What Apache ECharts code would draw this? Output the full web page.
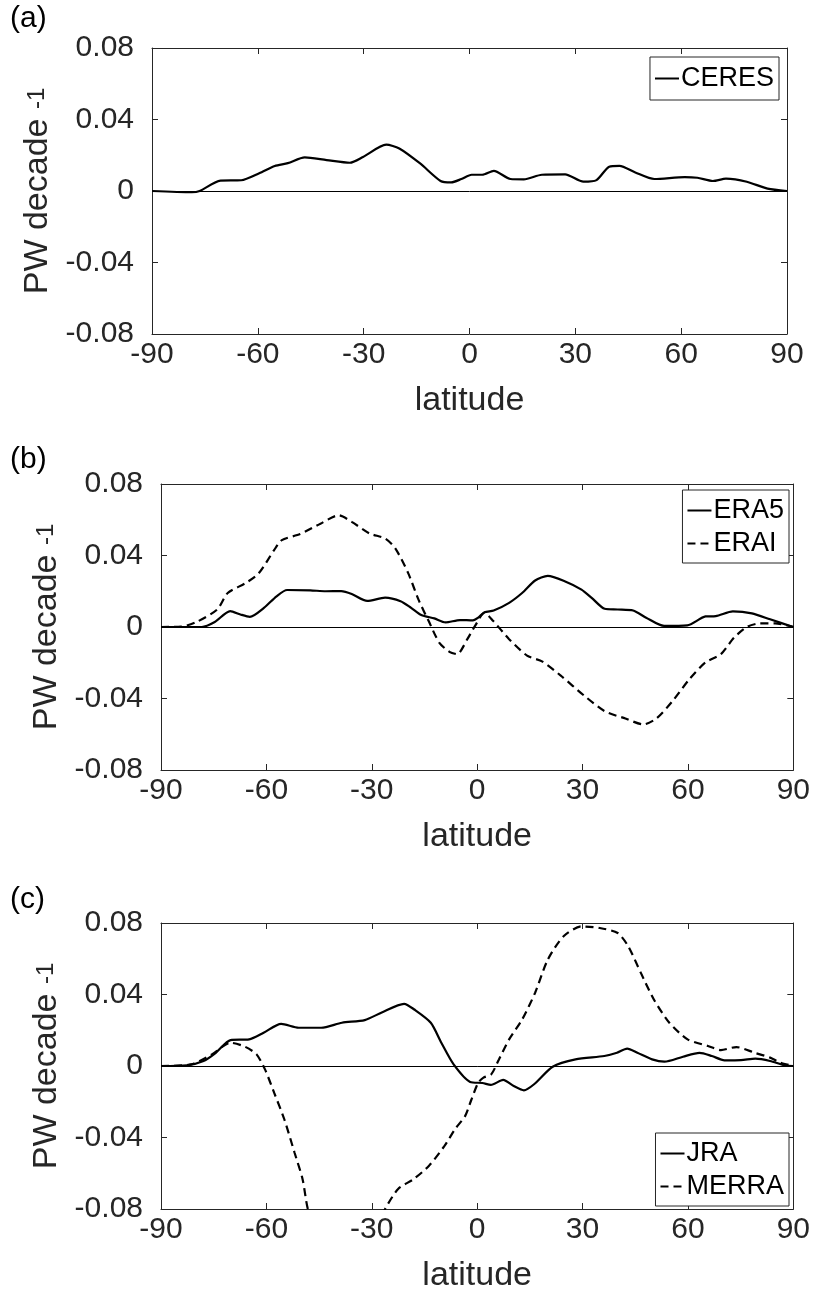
<!DOCTYPE html>
<html>
<head>
<meta charset="utf-8">
<script src="https://cdn.jsdelivr.net/npm/echarts@6/dist/echarts.min.js"></script>
<style>
html,body{margin:0;padding:0;background:#fff;}
#chart{width:813px;height:1297px;}
</style>
</head>
<body>
<div id="chart"></div>
<script>
// ---- data (latitude, PW decade^-1) ----
const xTicks = [-90, -60, -30, 0, 30, 60, 90];
const yTicks = [-0.08, -0.04, 0, 0.04, 0.08];

const ceresLat = [-90,-78.7,-76.5,-70.6,-64.7,-59.6,-55.2,-51.5,-46.7,-40.5,-33.9,-30.2,-23.6,-19.9,-14.0,-8.2,-5.2,-2.3,0.6,3.6,6.9,11.6,15.4,20.5,27.1,32.3,36.0,39.6,42.5,47.0,52.4,61.0,64.6,69.0,72.7,78.6,84.5,90];
const ceresVal = [0,-0.0007,0,0.0058,0.006,0.0099,0.014,0.0156,0.0188,0.0173,0.0158,0.019,0.0259,0.0238,0.0154,0.0056,0.0048,0.0067,0.0091,0.0091,0.0113,0.0067,0.0065,0.0091,0.0093,0.0052,0.0061,0.0136,0.0141,0.0104,0.0067,0.0078,0.0074,0.0056,0.0069,0.0052,0.0013,0];

const era5Lat = [-90,-78.4,-74.7,-70.3,-67.4,-64.7,-60.7,-57.1,-54.1,-47.5,-43.1,-38.7,-35.7,-31.3,-26.2,-21.8,-18.8,-15.9,-12.2,-9.0,-4.9,-1.2,0.3,2.1,4.7,9.1,12.8,16.5,20.1,24.6,29.7,32.6,36.3,40.0,44.4,48.1,53.2,59.8,65.0,67.9,72.8,78.2,83.4,90];
const era5Val = [0,0,0.0028,0.0089,0.007,0.0057,0.0107,0.0172,0.0207,0.0205,0.02,0.0201,0.0185,0.0146,0.0164,0.0144,0.0107,0.0067,0.0048,0.0026,0.0039,0.0037,0.0052,0.0083,0.0092,0.0135,0.019,0.026,0.0286,0.0259,0.0209,0.0163,0.0102,0.0098,0.0092,0.0052,0.0006,0.0009,0.0059,0.0061,0.0087,0.0076,0.0043,0];

const eraiLat = [-90,-84.3,-79.9,-74,-71,-65.9,-62.2,-57.8,-55.6,-50.4,-44.6,-39.4,-35.7,-30.6,-26.2,-23.3,-19.6,-16.7,-13.8,-10.8,-7.9,-5.7,-2.8,-0.6,2.1,4.6,9.1,14.2,18.6,23.8,30.4,36.3,42.2,47.3,51,55.4,60.5,65.0,69.4,73.1,76.8,80.4,84.8,90];
const eraiVal = [0,0.0002,0.0028,0.0098,0.019,0.0246,0.030,0.043,0.0486,0.052,0.0578,0.0625,0.0588,0.0523,0.0495,0.044,0.030,0.0153,0.0033,-0.0087,-0.0139,-0.0152,-0.0068,0.0006,0.008,0.0033,-0.0068,-0.016,-0.0194,-0.0272,-0.0383,-0.0471,-0.0512,-0.0545,-0.0512,-0.042,-0.029,-0.0198,-0.0152,-0.006,0,0.002,0.002,0];

const jraLat = [-90,-82.6,-77.9,-74.4,-70.2,-64.9,-60.8,-55.8,-50.8,-44.4,-38.5,-32.0,-27.3,-20.8,-17.9,-13.2,-10.2,-6.7,-2.0,1.5,3.9,7.4,10.4,13.3,16.2,21.5,28.0,36.2,39.8,42.7,45.6,49.8,53.3,58.6,63.3,66.8,70.4,75.1,79.2,83.4,87.4,90];
const jraVal = [0,0.0004,0.0028,0.0074,0.0145,0.0149,0.0186,0.0236,0.0214,0.0214,0.0242,0.0257,0.0298,0.0348,0.0316,0.0242,0.013,0.0009,-0.0089,-0.0095,-0.0106,-0.0078,-0.0112,-0.0136,-0.0102,-0.0004,0.0037,0.0056,0.0074,0.0097,0.0074,0.0037,0.0024,0.0052,0.0073,0.0056,0.0032,0.0033,0.0041,0.0028,0.0004,0];

const merraLat = [-90,-81.4,-75.5,-70.2,-66.1,-62.8,-60.4,-57.8,-54.9,-52,-49.7,-48.2,-45,-41,-37,-33,-29.5,-26.2,-22.5,-18.1,-13.7,-9.3,-6.3,-3.4,-1.6,0.3,1.8,4.0,6.2,9.1,12.8,16.5,20.1,24.6,29.7,34.9,40.0,43.0,46.6,50.3,54.7,59.9,65.7,69.4,73.8,79,83.4,86.3,90];
const merraVal = [0,0.0009,0.0065,0.013,0.0108,0.0065,-0.0019,-0.0149,-0.0298,-0.0484,-0.0633,-0.08,-0.098,-0.112,-0.116,-0.108,-0.094,-0.08,-0.0688,-0.0633,-0.0558,-0.0447,-0.0353,-0.0279,-0.0186,-0.0093,-0.0065,-0.0047,0.0037,0.0149,0.026,0.041,0.0595,0.0726,0.0781,0.0772,0.0744,0.067,0.0521,0.0372,0.0242,0.0149,0.0112,0.0089,0.0106,0.0074,0.0047,0.0019,0];

const panelLabels = ['(a)', '(b)', '(c)'];
const yTitle = 'PW decade {sup|-1}';
const xTitle = 'latitude';

// ---- build ----
const zip = (a, b) => a.map((v, i) => [v, b[i]]);
const FONT = "'Liberation Sans', Arial, Helvetica, sans-serif";
const AX = '#262626';

const grids = [
  {left: 152, top: 48, width: 635, height: 286},
  {left: 161, top: 484, width: 634, height: 286},
  {left: 161, top: 923, width: 634, height: 286}
];

const xAxes = [], yAxes = [];
for (let i = 0; i < 3; i++) {
  xAxes.push({
    type: 'value', gridIndex: i, min: xTicks[0], max: xTicks[xTicks.length-1], interval: 30,
    position: 'bottom',
    axisLine: {show: true, onZero: false, lineStyle: {color: AX, width: 1}},
    axisTick: {show: true, inside: true, length: 6, lineStyle: {color: AX}},
    axisLabel: {show: true, margin: 6, fontSize: 30, color: AX, fontFamily: FONT},
    splitLine: {show: false},
    name: xTitle, nameLocation: 'middle', nameGap: 50,
    nameTextStyle: {fontSize: 34, color: AX, fontFamily: FONT}
  });
  yAxes.push({
    type: 'value', gridIndex: i, min: yTicks[0], max: yTicks[yTicks.length-1], interval: 0.04,
    position: 'left',
    axisLine: {show: true, onZero: false, lineStyle: {color: AX, width: 1}},
    axisTick: {show: true, inside: true, length: 6, lineStyle: {color: AX}},
    axisLabel: {show: true, margin: 18, fontSize: 30, color: AX, fontFamily: FONT,
      formatter: v => (Math.abs(v) < 1e-9 ? '0' : String(+v.toFixed(2)))},
    splitLine: {show: false},
    name: yTitle, nameLocation: 'middle', nameGap: 85, nameRotate: 90,
    nameTextStyle: {fontSize: 34, color: AX, fontFamily: FONT,
      rich: {sup: {fontSize: 24, color: AX, fontFamily: FONT, verticalAlign: 'middle'}}}
  });
}
for (let i = 0; i < 3; i++) {
  xAxes.push({
    type: 'value', gridIndex: i, min: xTicks[0], max: xTicks[xTicks.length-1], interval: 30,
    position: 'top',
    axisLine: {show: true, onZero: false, lineStyle: {color: AX, width: 1}},
    axisTick: {show: true, inside: true, length: 6, lineStyle: {color: AX}},
    axisLabel: {show: false}, splitLine: {show: false}
  });
  yAxes.push({
    type: 'value', gridIndex: i, min: yTicks[0], max: yTicks[yTicks.length-1], interval: 0.04,
    position: 'right',
    axisLine: {show: true, onZero: false, lineStyle: {color: AX, width: 1}},
    axisTick: {show: true, inside: true, length: 6, lineStyle: {color: AX}},
    axisLabel: {show: false}, splitLine: {show: false}
  });
}

const zeroLine = {
  silent: true, symbol: ['none', 'none'], label: {show: false},
  lineStyle: {color: '#000', width: 1, type: 'solid'},
  data: [{yAxis: 0}]
};

function lineSeries(name, idx, lat, val, dashed, withZero) {
  const s = {
    name, type: 'line', xAxisIndex: idx, yAxisIndex: idx,
    data: zip(lat, val), symbol: 'none', showSymbol: false, smooth: 0.25, clip: true,
    lineStyle: {color: '#000', width: 2.2, type: dashed ? [8, 5] : 'solid'},
    itemStyle: {color: '#000'}
  };
  if (withZero) s.markLine = zeroLine;
  return s;
}

const series = [
  lineSeries('CERES', 0, ceresLat, ceresVal, false, true),
  lineSeries('ERA5', 1, era5Lat, era5Val, false, true),
  lineSeries('ERAI', 1, eraiLat, eraiVal, true, false),
  lineSeries('JRA', 2, jraLat, jraVal, false, true),
  lineSeries('MERRA', 2, merraLat, merraVal, true, false)
];

const legendBase = {
  orient: 'vertical', itemWidth: 24, itemHeight: 10, itemGap: 6,
  padding: [8, 5, 8, 4], borderColor: AX, borderWidth: 1, borderRadius: 0,
  backgroundColor: '#fff',
  itemStyle: {opacity: 0, borderWidth: 0},
  lineStyle: {width: 2},
  textStyle: {fontSize: 27, color: '#000', fontFamily: FONT, padding: [0, 0, 0, -3]}
};
const legends = [
  Object.assign({}, legendBase, {data: ['CERES'], right: 34, top: 57}),
  Object.assign({}, legendBase, {data: ['ERA5', 'ERAI'], right: 24, top: 490, padding: [7, 5, 6, 4]}),
  Object.assign({}, legendBase, {data: ['JRA', 'MERRA'], right: 24, top: 1133, padding: [7, 5, 6, 4]})
];

const graphics = panelLabels.map((t, i) => ({
  type: 'text', left: 10, top: [4, 445, 885][i],
  style: {text: t, fontSize: 30, fill: '#000', fontFamily: FONT}
}));

const chart = echarts.init(document.getElementById('chart'), null, {renderer: 'canvas'});
chart.setOption({
  animation: false,
  backgroundColor: '#fff',
  grid: grids,
  xAxis: xAxes,
  yAxis: yAxes,
  legend: legends,
  series,
  graphic: graphics
});
</script>
</body>
</html>
